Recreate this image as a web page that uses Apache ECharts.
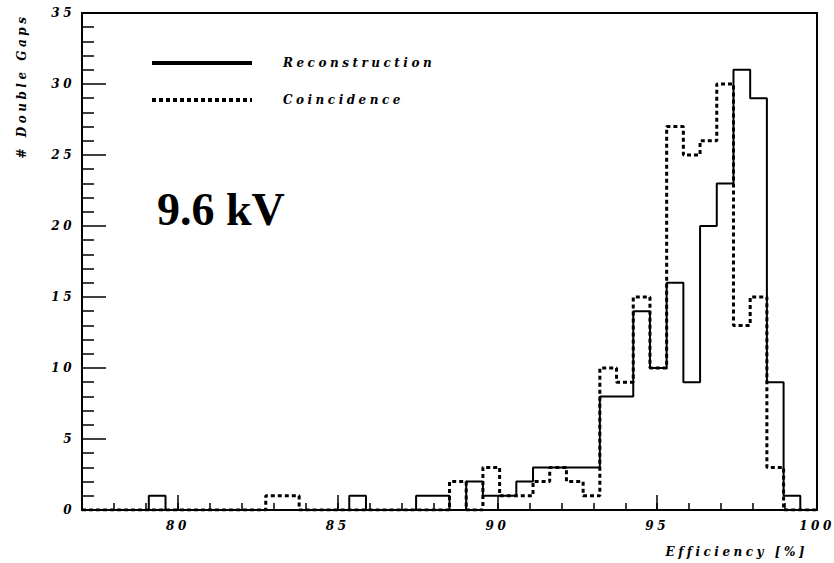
<!DOCTYPE html>
<html>
<head>
<meta charset="utf-8">
<script src="https://cdn.jsdelivr.net/npm/echarts@6/dist/echarts.min.js"></script>
<style>
  html, body { margin: 0; padding: 0; background: #fff; }
  #chart { width: 834px; height: 563px; }
  /* ROOT-style spaced lettering for axis and legend text */
  #chart text { letter-spacing: 3.5px; }
  #chart text[style*="Liberation Serif"] { letter-spacing: 0; }
</style>
</head>
<body>
<div id="chart"></div>
<script>
// Histogram binning: 44 equal bins between 77 % and 100 %
const xMin = 77;
const xMax = 100;
const nBins = 44;

// Axis ticks
const xMajorTicks = [80, 85, 90, 95, 100];
const yMin = 0;
const yMax = 35;
const yStep = 5;

// Bin contents (# double gaps per efficiency bin)
const reconstruction = [
  0, 0, 0, 0, 1, 0, 0, 0, 0, 0,
  0, 0, 0, 0, 0, 0, 1, 0, 0, 0,
  1, 1, 0, 2, 1, 1, 2, 3, 3, 3,
  3, 8, 8, 14, 10, 16, 9, 20, 23, 31,
  29, 9, 1, 0
];
const coincidence = [
  0, 0, 0, 0, 0, 0, 0, 0, 0, 0,
  0, 1, 1, 0, 0, 0, 0, 0, 0, 0,
  0, 0, 2, 0, 3, 1, 1, 2, 3, 2,
  1, 10, 9, 15, 10, 27, 25, 26, 30, 13,
  15, 3, 0, 0
];

// Labels
const seriesNames = ['Reconstruction', 'Coincidence'];
const yTitle = '# Double Gaps';
const xTitle = 'Efficiency [%]';
const voltageLabel = '9.6 kV';

// Turn bin contents into step-line vertices at the lower bin edges
function histogramSteps(counts) {
  const w = (xMax - xMin) / nBins;
  const pts = counts.map((c, i) => [xMin + i * w, c]);
  pts.push([xMax, counts[counts.length - 1]]);
  return pts;
}

const rootFont = "'DejaVu Serif'";
const chart = echarts.init(document.getElementById('chart'), null, { renderer: 'svg' });

chart.setOption({
  animation: false,
  backgroundColor: '#fff',
  color: ['#000', '#000'],
  grid: {
    left: 82, right: 17, top: 13, bottom: 53,
    show: true, borderColor: '#000', borderWidth: 2,
    backgroundColor: 'transparent'
  },
  legend: {
    data: seriesNames,
    orient: 'vertical',
    left: 145, top: 52,
    itemWidth: 100, itemHeight: 14, itemGap: 25,
    selectedMode: false,
    itemStyle: { opacity: 0 },
    lineStyle: { width: 4 },
    textStyle: {
      color: '#000', fontFamily: rootFont, fontStyle: 'italic',
      fontWeight: 'bold', fontSize: 12, padding: [0, 0, 0, 26]
    }
  },
  xAxis: [
    {
      type: 'value', min: xMin, max: xMax, position: 'bottom',
      axisLine: { lineStyle: { color: '#000', width: 2 } },
      axisTick: { inside: true, length: 15, customValues: xMajorTicks,
                  lineStyle: { color: '#000', width: 1.5 } },
      axisLabel: { customValues: xMajorTicks, margin: 10, color: '#000',
                   fontFamily: rootFont, fontStyle: 'italic', fontWeight: 'bold', fontSize: 12 },
      splitLine: { show: false }
    },
    {
      // unit minor ticks
      type: 'value', min: xMin, max: xMax, interval: 1, position: 'bottom',
      axisLine: { show: false },
      axisTick: { inside: true, length: 7, lineStyle: { color: '#000', width: 1.5 } },
      axisLabel: { show: false },
      splitLine: { show: false }
    }
  ],
  yAxis: {
    type: 'value', min: yMin, max: yMax, interval: yStep,
    axisLine: { show: true, lineStyle: { color: '#000', width: 2 } },
    axisTick: { show: true, inside: true, length: 24, lineStyle: { color: '#000', width: 1.5 } },
    minorTick: { show: true, splitNumber: 5, length: 12, lineStyle: { color: '#000', width: 1.5 } },
    axisLabel: { margin: 7, color: '#000', fontFamily: rootFont, fontStyle: 'italic',
                 fontWeight: 'bold', fontSize: 12 },
    splitLine: { show: false }
  },
  series: [
    {
      name: seriesNames[1], type: 'line', step: 'end', symbol: 'none',
      xAxisIndex: 0, data: histogramSteps(coincidence), z: 2,
      itemStyle: { color: '#000' },
      lineStyle: { color: '#000', width: 3, type: [4, 3] }
    },
    {
      name: seriesNames[0], type: 'line', step: 'end', symbol: 'none',
      xAxisIndex: 0, data: histogramSteps(reconstruction), z: 3,
      itemStyle: { color: '#000' },
      lineStyle: { color: '#000', width: 2, type: 'solid' }
    }
  ],
  graphic: [
    {
      type: 'text', x: 22, y: 86, rotation: Math.PI / 2,
      style: { text: yTitle, fill: '#000', textAlign: 'center', textVerticalAlign: 'middle',
               font: "italic bold 12px 'DejaVu Serif'" }
    },
    {
      type: 'text', x: 808, y: 552,
      style: { text: xTitle, fill: '#000', textAlign: 'right', textVerticalAlign: 'middle',
               font: "italic bold 12px 'DejaVu Serif'" }
    },
    {
      type: 'text', x: 157, y: 209,
      style: { text: voltageLabel, fill: '#000', textAlign: 'left', textVerticalAlign: 'middle',
               font: "bold 46px 'Liberation Serif'" }
    }
  ]
});
</script>
</body>
</html>
